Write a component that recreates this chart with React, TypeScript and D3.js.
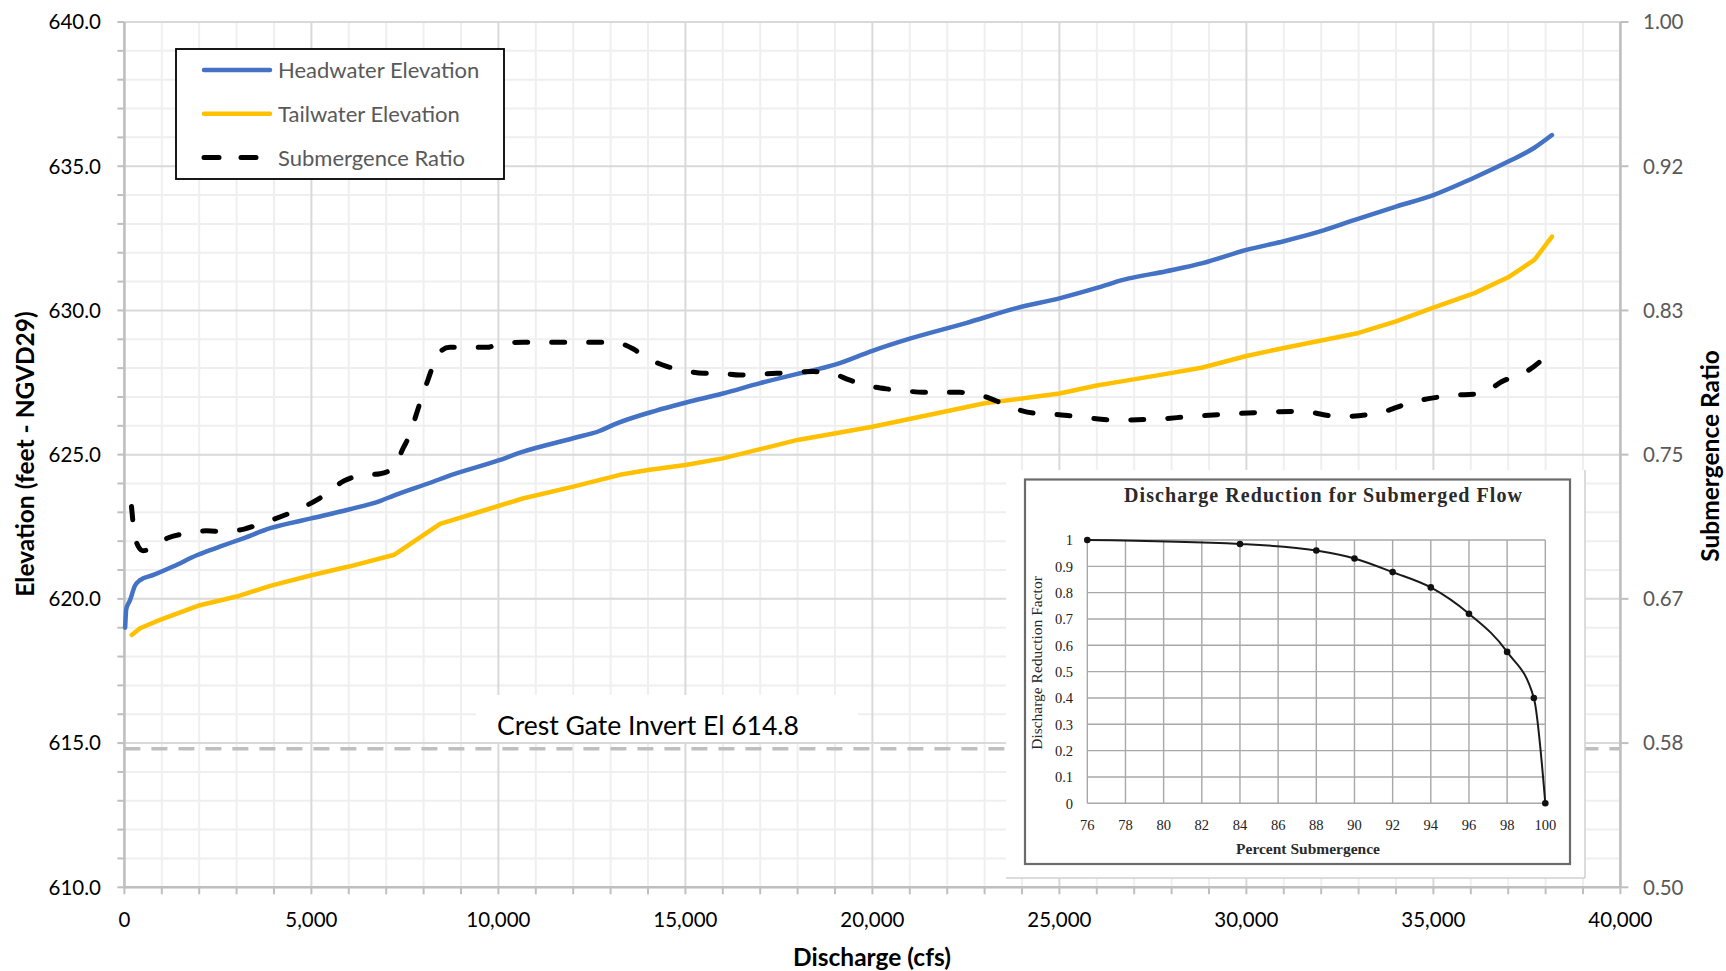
import React from "react";
import * as d3 from "d3";

// ---------- DATA ----------
const hwQ = [20, 50, 150, 280, 420, 780, 1300, 1950, 2550, 3180, 3900, 5000, 6000, 6850, 7200, 8250, 8620, 10000, 10600, 12000, 12700, 13100, 14200, 15000, 16000, 17000, 18000, 19000, 20000, 21000, 22500, 23850, 25000, 26000, 26700, 27860, 28830, 30000, 31000, 31950, 32900, 34000, 35000, 36000, 37000, 37700, 38170];
const hwElev = [619.0, 619.65, 619.95, 620.45, 620.65, 620.83, 621.12, 621.52, 621.81, 622.1, 622.45, 622.79, 623.1, 623.4, 623.58, 624.06, 624.24, 624.8, 625.08, 625.57, 625.82, 626.05, 626.52, 626.8, 627.12, 627.48, 627.8, 628.12, 628.6, 629.02, 629.56, 630.08, 630.42, 630.78, 631.06, 631.36, 631.64, 632.1, 632.4, 632.73, 633.14, 633.6, 634.0, 634.55, 635.16, 635.64, 636.08];

const twQ = [195, 420, 950, 2020, 3000, 3900, 5000, 6000, 7220, 8440, 9500, 10650, 12000, 13250, 14000, 15000, 16000, 17000, 18000, 20000, 21600, 23000, 25000, 26000, 26700, 27860, 28830, 30000, 31000, 32000, 33000, 34000, 35000, 36100, 37000, 37700, 38170];
const twElev = [618.75, 618.98, 619.27, 619.78, 620.08, 620.45, 620.82, 621.12, 621.53, 622.6, 623.02, 623.48, 623.89, 624.3, 624.47, 624.64, 624.87, 625.19, 625.51, 625.97, 626.4, 626.78, 627.12, 627.4, 627.55, 627.8, 628.02, 628.42, 628.7, 628.96, 629.22, 629.62, 630.1, 630.6, 631.15, 631.75, 632.56];

const srQ = [190, 240, 370, 500, 730, 1175, 1670, 2200, 2650, 3200, 3630, 4450, 5160, 5890, 6300, 6840, 7190, 7460, 7640, 7815, 7950, 8130, 8260, 8440, 8700, 9690, 10040, 10670, 11820, 13075, 13610, 13965, 14500, 14900, 15480, 15925, 16460, 17440, 18420, 18910, 19400, 19845, 20380, 20825, 21360, 22340, 22785, 23320, 23765, 24300, 24750, 25480, 26500, 27570, 28490, 29515, 30485, 31460, 32480, 33210, 33695, 34375, 35400, 36320, 36810, 37490, 38170];
const srRatio = [0.72, 0.709, 0.697, 0.6945, 0.696, 0.702, 0.7045, 0.706, 0.7055, 0.707, 0.71, 0.7165, 0.724, 0.735, 0.738, 0.739, 0.7425, 0.754, 0.762, 0.774, 0.783, 0.794, 0.802, 0.8095, 0.812, 0.812, 0.814, 0.815, 0.815, 0.815, 0.811, 0.806, 0.801, 0.799, 0.797, 0.797, 0.796, 0.797, 0.798, 0.797, 0.793, 0.79, 0.788, 0.787, 0.786, 0.786, 0.785, 0.781, 0.777, 0.774, 0.7735, 0.772, 0.77, 0.7705, 0.772, 0.7735, 0.7745, 0.775, 0.772, 0.773, 0.775, 0.78, 0.784, 0.7855, 0.792, 0.798, 0.81];

const crestElev = 614.8;
const crestLabel = "Crest Gate Invert El 614.8";

const dischargeTicks = [0, 5000, 10000, 15000, 20000, 25000, 30000, 35000, 40000];
const dischargeTickLabels = ["0", "5,000", "10,000", "15,000", "20,000", "25,000", "30,000", "35,000", "40,000"];
const elevTicks = [610, 615, 620, 625, 630, 635, 640];
const elevTickLabels = ["610.0", "615.0", "620.0", "625.0", "630.0", "635.0", "640.0"];
const ratioTicks = [0.5, 0.5 + 1 / 12, 0.5 + 2 / 12, 0.75, 0.5 + 4 / 12, 0.5 + 5 / 12, 1.0];
const ratioTickLabels = ["0.50", "0.58", "0.67", "0.75", "0.83", "0.92", "1.00"];

const legendLabels = ["Headwater Elevation", "Tailwater Elevation", "Submergence Ratio"];

// inset (discharge reduction curve)
const insetPct = [76, 84, 88, 90, 92, 94, 96, 98, 99.4, 100];
const insetFactor = [1.0, 0.985, 0.96, 0.93, 0.878, 0.82, 0.72, 0.575, 0.4, 0.0];
const insetXTicks = [76, 78, 80, 82, 84, 86, 88, 90, 92, 94, 96, 98, 100];
const insetYTicks = [0, 0.1, 0.2, 0.3, 0.4, 0.5, 0.6, 0.7, 0.8, 0.9, 1];
const insetYTickLabels = ["0", "0.1", "0.2", "0.3", "0.4", "0.5", "0.6", "0.7", "0.8", "0.9", "1"];

// ---------- STYLE ----------
const BLUE = "#4472C4";
const GOLD = "#FFC000";
const SANS = "Lato, 'Open Sans', sans-serif";
const SERIF = "'Liberation Serif', 'DejaVu Serif', serif";

export default function App() {
  const W = 1726;
  const H = 971;
  const L = 124.4, R = 1620.4, T = 22, B = 887.3;

  const x = d3.scaleLinear().domain([0, 40000]).range([L, R]);
  const yL = d3.scaleLinear().domain([610, 640]).range([B, T]);
  const yR = d3.scaleLinear().domain([0.5, 1]).range([B, T]);

  const hwPath = d3.line<number>().x((_, i) => x(hwQ[i])).y((d) => yL(d)).curve(d3.curveMonotoneX)(hwElev) || "";
  const twPath = d3.line<number>().x((_, i) => x(twQ[i])).y((d) => yL(d)).curve(d3.curveLinear)(twElev) || "";
  const srPath = d3.line<number>().x((_, i) => x(srQ[i])).y((d) => yR(d)).curve(d3.curveMonotoneX)(srRatio) || "";

  const minorElev = d3.range(611, 640).filter((v) => v % 5 !== 0);
  const minorQ = d3.range(1000, 40000, 1000).filter((v) => v % 5000 !== 0);
  const allElevTicks = d3.range(610, 641);
  const allQTicks = d3.range(0, 40001, 1000);

  // inset scales
  const ix = d3.scaleLinear().domain([76, 100]).range([1087.3, 1545.3]);
  const iy = d3.scaleLinear().domain([0, 1]).range([803.3, 540]);
  const insetPath = d3.line<number>().x((_, i) => ix(insetPct[i])).y((d) => iy(d)).curve(d3.curveMonotoneX)(insetFactor) || "";

  const crestY = yL(crestElev);

  return (
    <svg width={W} height={H} style={{ position: "absolute", left: 0, top: 0, background: "#fff" }}>
      <rect x={0} y={0} width={W} height={H} fill="#fff" />
      {/* minor gridlines */}
      {minorElev.map((v) => (
        <line key={"me" + v} x1={L} x2={R} y1={yL(v)} y2={yL(v)} stroke="#EFEFEF" strokeWidth={2} />
      ))}
      {minorQ.map((v) => (
        <line key={"mq" + v} x1={x(v)} x2={x(v)} y1={T} y2={B} stroke="#EFEFEF" strokeWidth={2} />
      ))}
      {/* major gridlines */}
      {elevTicks.map((v) => (
        <line key={"Me" + v} x1={L} x2={R} y1={yL(v)} y2={yL(v)} stroke="#D9D9D9" strokeWidth={2} />
      ))}
      {dischargeTicks.map((v) => (
        <line key={"Mq" + v} x1={x(v)} x2={x(v)} y1={T} y2={B} stroke="#D9D9D9" strokeWidth={2} />
      ))}

      {/* axes lines */}
      <line x1={L} x2={L} y1={T} y2={B} stroke="#BFBFBF" strokeWidth={2.5} />
      <line x1={R} x2={R} y1={T} y2={B} stroke="#BFBFBF" strokeWidth={2.5} />
      <line x1={L} x2={R} y1={B} y2={B} stroke="#BFBFBF" strokeWidth={2.5} />
      {allElevTicks.map((v) => (
        <line key={"te" + v} x1={L - 7} x2={L} y1={yL(v)} y2={yL(v)} stroke="#BFBFBF" strokeWidth={2} />
      ))}
      {ratioTicks.map((v, i) => (
        <line key={"tr" + i} x1={R} x2={R + 8} y1={yR(v)} y2={yR(v)} stroke="#BFBFBF" strokeWidth={2} />
      ))}
      {allQTicks.map((v) => (
        <line key={"tq" + v} x1={x(v)} x2={x(v)} y1={B} y2={B + 7} stroke="#BFBFBF" strokeWidth={2} />
      ))}

      {/* tick labels */}
      {elevTicks.map((v, i) => (
        <text key={"le" + v} x={101} y={yL(v)} dy="0.36em" textAnchor="end" fontFamily={SANS} fontSize={20.5} fill="#000">
          {elevTickLabels[i]}
        </text>
      ))}
      {ratioTicks.map((v, i) => (
        <text key={"lr" + i} x={1643} y={yR(v)} dy="0.36em" textAnchor="start" fontFamily={SANS} fontSize={20.5} fill="#595959">
          {ratioTickLabels[i]}
        </text>
      ))}
      {dischargeTicks.map((v, i) => (
        <text key={"lq" + v} x={x(v)} y={920} dy="0.36em" textAnchor="middle" fontFamily={SANS} fontSize={20.5} fill="#000">
          {dischargeTickLabels[i]}
        </text>
      ))}

      {/* axis titles */}
      <text x={872} y={957} dy="0.36em" textAnchor="middle" fontFamily={SANS} fontWeight="bold" fontSize={24.5} fill="#000">
        Discharge (cfs)
      </text>
      <text transform="translate(25,454) rotate(-90)" dy="0.36em" textAnchor="middle" fontFamily={SANS} fontWeight="bold" fontSize={24.5} fill="#000">
        Elevation (feet - NGVD29)
      </text>
      <text transform="translate(1710,456) rotate(-90)" dy="0.36em" textAnchor="middle" fontFamily={SANS} fontWeight="bold" fontSize={24.5} fill="#000">
        Submergence Ratio
      </text>

      {/* crest gate line + label */}
      <line x1={L} x2={R} y1={crestY} y2={crestY} stroke="#BFBFBF" strokeWidth={3.5} strokeDasharray="16 11" />
      <rect x={476} y={695} width={382} height={47} fill="#fff" />
      <text x={648} y={725} dy="0.36em" textAnchor="middle" fontFamily={SANS} fontSize={26.5} fill="#000">
        {crestLabel}
      </text>

      {/* series */}
      <path d={twPath} fill="none" stroke={GOLD} strokeWidth={4.5} strokeLinejoin="round" strokeLinecap="round" />
      <path d={hwPath} fill="none" stroke={BLUE} strokeWidth={4.5} strokeLinejoin="round" strokeLinecap="round" />
      <path d={srPath} fill="none" stroke="#000" strokeWidth={5} strokeDasharray="13 24" strokeLinecap="round" strokeLinejoin="round" />

      {/* inset */}
      <g>
        <rect x={1006} y={470} width={579} height={408} fill="#fff" />
        <line x1={1006} x2={1585} y1={878} y2={878} stroke="#D0D0D0" strokeWidth={1.5} />
        <line x1={1585} x2={1585} y1={470} y2={878} stroke="#D0D0D0" strokeWidth={1.5} />
        <rect x={1025} y={479.5} width={545} height={384.5} fill="#fff" stroke="#6b6b6b" strokeWidth={2.2} />
        <text x={1323} y={495} dy="0.36em" textAnchor="middle" fontFamily={SERIF} fontWeight="bold" fontSize={20} fill="#2a2a2a" textLength={398} lengthAdjust="spacing">
          Discharge Reduction for Submerged Flow
        </text>
        {insetYTicks.map((v) => (
          <line key={"iy" + v} x1={ix(76)} x2={ix(100)} y1={iy(v)} y2={iy(v)} stroke="#A8A8A8" strokeWidth={1.4} />
        ))}
        {insetXTicks.map((v) => (
          <line key={"ix" + v} x1={ix(v)} x2={ix(v)} y1={iy(1)} y2={iy(0)} stroke="#A8A8A8" strokeWidth={1.4} />
        ))}
        {insetYTicks.map((v, i) => (
          <text key={"iyl" + v} x={1073} y={iy(v)} dy="0.36em" textAnchor="end" fontFamily={SERIF} fontSize={14.5} fill="#222">
            {insetYTickLabels[i]}
          </text>
        ))}
        {insetXTicks.map((v) => (
          <text key={"ixl" + v} x={ix(v)} y={825} dy="0.36em" textAnchor="middle" fontFamily={SERIF} fontSize={14.5} fill="#222">
            {v}
          </text>
        ))}
        <text x={1308} y={848} dy="0.36em" textAnchor="middle" fontFamily={SERIF} fontWeight="bold" fontSize={15.5} fill="#2a2a2a">
          Percent Submergence
        </text>
        <text transform="translate(1036,663) rotate(-90)" dy="0.36em" textAnchor="middle" fontFamily={SERIF} fontSize={15.5} fill="#2a2a2a">
          Discharge Reduction Factor
        </text>
        <path d={insetPath} fill="none" stroke="#1a1a1a" strokeWidth={2} />
        {insetFactor.map((d, i) => (
          <circle key={"ic" + i} cx={ix(insetPct[i])} cy={iy(d)} r={3.3} fill="#111" />
        ))}
      </g>

      {/* legend */}
      <g>
        <rect x={176} y={49} width={328} height={130} fill="#fff" stroke="#000" strokeWidth={1.8} />
        {legendLabels.map((lab, i) => {
          const yy = 70 + i * 43.8;
          return (
            <g key={lab}>
              {i === 0 && <line x1={204} x2={270} y1={yy} y2={yy} stroke={BLUE} strokeWidth={4.5} strokeLinecap="round" />}
              {i === 1 && <line x1={204} x2={270} y1={yy} y2={yy} stroke={GOLD} strokeWidth={4.5} strokeLinecap="round" />}
              {i === 2 && <line x1={204} x2={270} y1={yy} y2={yy} stroke="#000" strokeWidth={5} strokeDasharray="15 22" strokeLinecap="round" />}
              <text x={278} y={yy} dy="0.36em" fontFamily={SANS} fontSize={22} fill="#595959">
                {lab}
              </text>
            </g>
          );
        })}
      </g>
    </svg>
  );
}
